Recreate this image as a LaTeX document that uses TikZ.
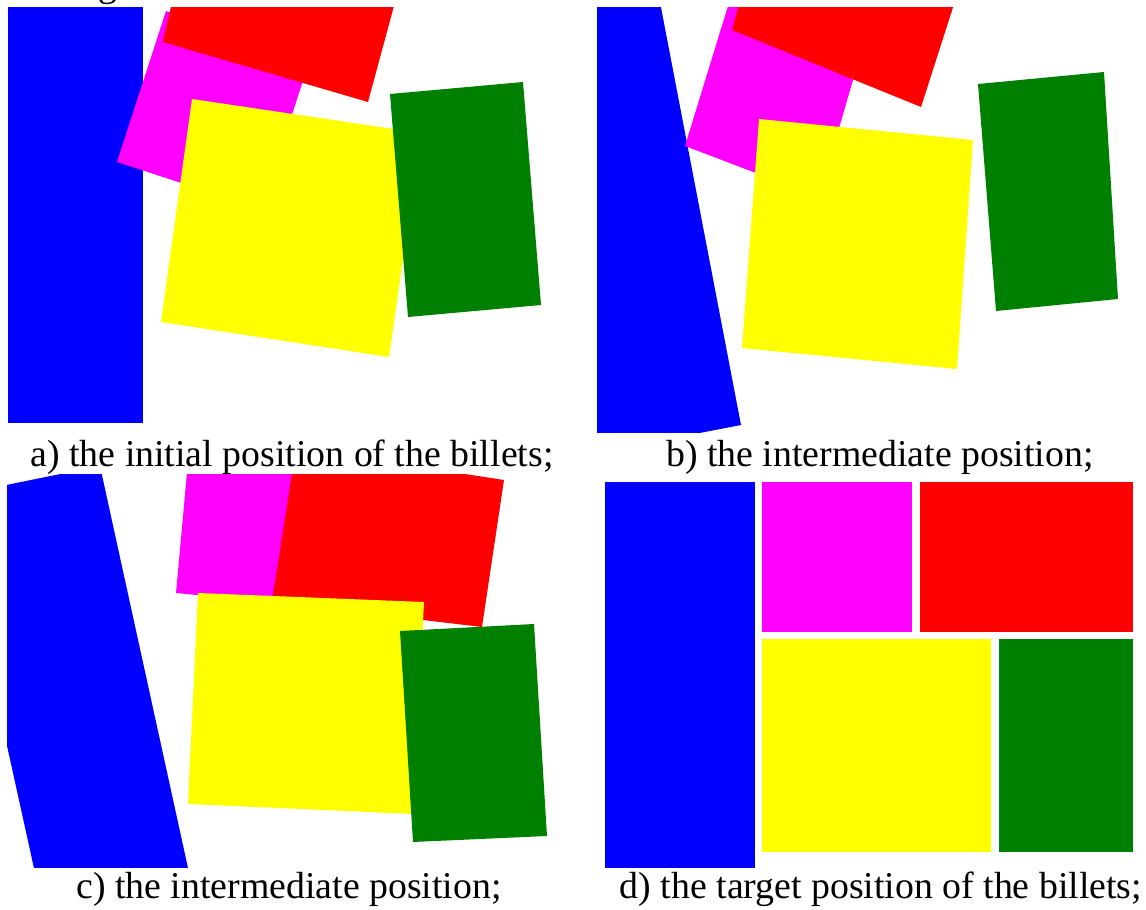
\documentclass[tikz,border=0pt]{standalone}
\usepackage{fontspec}
\setmainfont{Liberation Serif}
\definecolor{bBlue}{RGB}{0,0,255}
\definecolor{bRed}{RGB}{255,0,0}
\definecolor{bMag}{RGB}{255,0,255}
\definecolor{bYel}{RGB}{255,255,0}
\definecolor{bGrn}{RGB}{0,128,0}
\begin{document}
\begin{tikzpicture}[x=1pt,y=-1pt,
  captext/.style={anchor=base, inner sep=0pt, font=\fontsize{37.8}{42}\selectfont}]
\useasboundingbox (0,0) rectangle (1146,910);
% fragment of text above the figure
\node[captext] (frag) at (108,-4) {g};
% ---- panel a
\begin{scope}
\clip (8,7) rectangle (560,423);
\fill[bBlue] (8,7) rectangle (143,423);
\fill[bMag] (166,11) -- (117,162) -- (261,209) -- (310.5,58) -- cycle;
\fill[bRed] (163,42) -- (368,102) -- (401,-20) -- (177,-20) -- cycle;
\fill[bYel] (192,99) -- (421,133) -- (389,357) -- (161,322) -- cycle;
\fill[bGrn] (390,94) -- (523,82) -- (541,305) -- (408,317) -- cycle;
\end{scope}
% ---- panel b
\begin{scope}
\clip (597,7) rectangle (1146,432);
\fill[bBlue] (741,425) -- (650,-50) -- (560,-50) -- (560,460) -- cycle;
\fill[bMag] (685,146) -- (819,197) -- (882,-20) -- (736,-20) -- cycle;
\fill[bRed] (732,30) -- (921,107) -- (965,-30) -- (749,-30) -- cycle;
\fill[bYel] (759,119) -- (973,140) -- (957,369) -- (742,348) -- cycle;
\fill[bGrn] (978,84) -- (1104,72) -- (1118,299) -- (996,311) -- cycle;
\end{scope}
% ---- panel c
\begin{scope}
\clip (7,474) rectangle (580,867);
\fill[bBlue] (-48,496) -- (100,466) -- (195,900) -- (41,900) -- cycle;
\fill[bMag] (190,440) -- (176,593) -- (300,605) -- (310,440) -- cycle;
\fill[bRed] (296,448) -- (504,480) -- (482,627) -- (272,602) -- cycle;
\fill[bYel] (198,593) -- (424,602) -- (414,814) -- (188,804) -- cycle;
\fill[bGrn] (400,631) -- (534,624) -- (547,836) -- (413,842) -- cycle;
\end{scope}
% ---- panel d
\fill[bBlue] (605,482) rectangle (755,868);
\fill[bMag] (762,482) rectangle (912,632);
\fill[bRed] (920,482) rectangle (1133,632);
\fill[bYel] (762,639) rectangle (991,852);
\fill[bGrn] (999,639) rectangle (1133,852);
% captions
\node[captext] (capA) at (292,466) {a) the initial position of the billets;};
\node[captext] (capB) at (880,466) {b) the intermediate position;};
\node[captext] (capC) at (289,898) {c) the intermediate position;};
\node[captext] (capD) at (881,898) {d) the target position of the billets;};
\end{tikzpicture}
\end{document}
